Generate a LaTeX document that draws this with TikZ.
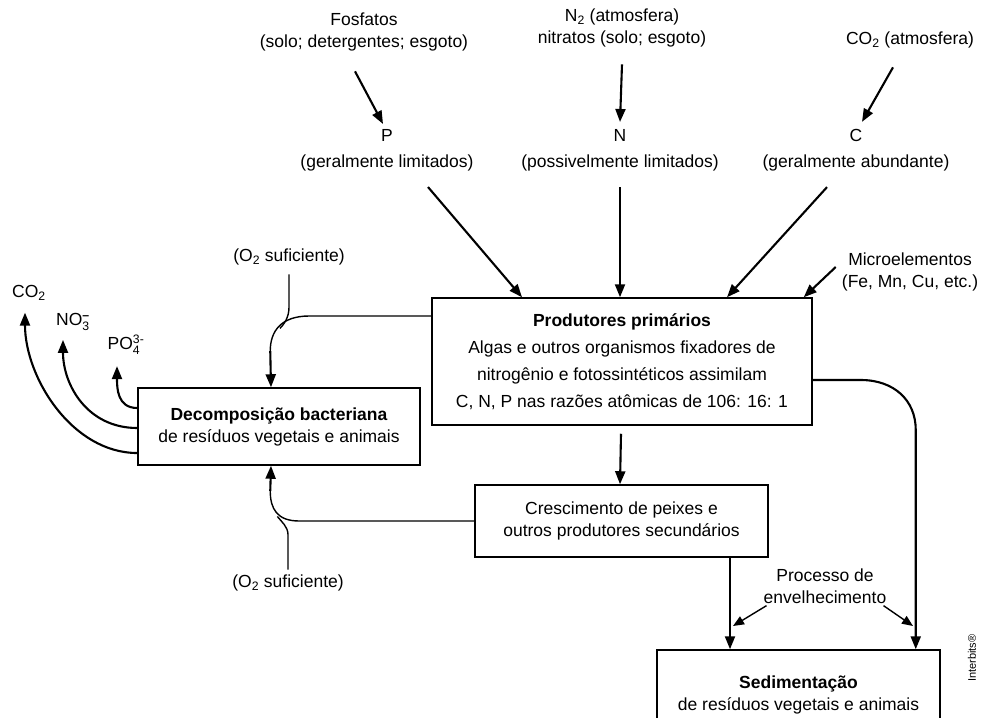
\documentclass[tikz,border=0pt]{standalone}
\usepackage{fontspec}
\usepackage{amsmath}
\setmainfont{Liberation Sans}
\usetikzlibrary{positioning, arrows.meta}

\newcommand{\ionsub}[2]{$_{\text{#2}}^{\text{#1}}$}

\begin{document}
\begin{tikzpicture}[x=1pt, y=-1pt, font=\fontsize{17.5}{22}\selectfont,
    txt/.style={align=center, inner sep=2pt},
    box/.style={draw, line width=1.5pt, align=center, inner sep=0pt},
    arr/.style={-{Triangle[length=13pt,width=10pt]}, line width=2.1pt},
    smallarr/.style={-{Triangle[length=11pt,width=9pt]}, line width=1.4pt},
    thinline/.style={line width=1.4pt}]

    \useasboundingbox (0,0) rectangle (984,717);

    % sources
    \node[txt] (fos) at (364,32) {Fosfatos\\(solo; detergentes; esgoto)};
    \node[txt] (n2) at (622,28) {N\textsubscript{2} (atmosfera)\\nitratos (solo; esgoto)};
    \node[txt] (co2s) at (910,40) {CO\textsubscript{2} (atmosfera)};
    \node[txt] (pp) at (387,150) {P\\[4pt](geralmente limitados)};
    \node[txt] (nn) at (620,150) {N\\[4pt](possivelmente limitados)};
    \node[txt] (cc) at (856,150) {C\\[4pt](geralmente abundante)};
    \node[txt] (micro) at (910,272) {Microelementos\\(Fe, Mn, Cu, etc.)};

    % boxes
    \node[box, minimum width=380pt, minimum height=127pt] (prod) at (622,361.5)
        {\textbf{Produtores primários}\\[5pt]
         Algas e outros organismos fixadores de\\[5pt]
         nitrogênio e fotossintéticos assimilam\\[5pt]
         C, N, P nas razões atômicas de 106: 16: 1};
    \node[box, minimum width=282pt, minimum height=77pt] (dec) at (279,426.5)
        {\textbf{Decomposição bacteriana}\\de resíduos vegetais e animais};
    \node[box, minimum width=293pt, minimum height=72pt] (cre) at (621.5,521)
        {Crescimento de peixes e\\outros produtores secundários};
    \node[box, minimum width=283pt, minimum height=90pt] (sed) at (798.5,695)
        {\textbf{Sedimentação}\\de resíduos vegetais e animais};

    % other labels
    \node[txt] (o2a) at (289,257) {(O\textsubscript{2} suficiente)};
    \node[txt] (o2b) at (288,583) {(O\textsubscript{2} suficiente)};
    \node[txt] (co2l) at (29,293) {CO\textsubscript{2}};
    \node[txt] (no3) at (73,322) {NO\ionsub{\textbf{--}}{3}};
    \node[txt] (po4) at (126,345) {PO\ionsub{3-}{4}};
    \node[txt] (proc) at (825,586) {Processo de\\envelhecimento};
    \node[rotate=90, font=\fontsize{11}{13}\selectfont] (ib) at (972,658) {Interbits®};
    \coordinate (envl) at (733,626);
    \coordinate (envr) at (913,626);

    % inputs
    \draw[arr] ([xshift=-9pt,yshift=-18pt]fos.south) -- ([xshift=-4pt,yshift=3pt]pp.north);
    \draw[arr] ([yshift=-15pt]n2.south) -- ([yshift=5pt]nn.north);
    \draw[arr] ([xshift=-17pt,yshift=-17pt]co2s.south) -- ([xshift=6pt,yshift=5pt]cc.north);
    \draw[arr] ([xshift=41pt,yshift=-14pt]pp.south) -- ([xshift=-100pt]prod.north);
    \draw[arr] ([yshift=-14pt]nn.south) -- (nn.south |- prod.north);
    \draw[arr] ([xshift=-29pt,yshift=-14pt]cc.south) -- ([xshift=105pt]prod.north);
    \draw[arr] ([xshift=-4pt,yshift=5pt]micro.west) -- ([xshift=-9pt]prod.north east);

    % to decomposition
    \draw[thinline] ([yshift=45.5pt]prod.west) -- ++(-122,0)
        .. controls +(-28,0) and +(0,-20) .. ++(-39,35) coordinate (topm);
    \draw[arr] (topm) -- ([xshift=-8pt]dec.north);
    \draw[thinline] ([yshift=-7pt]o2a.south) -- ++(0,33)
        .. controls +(0,10) and +(4,-4) .. ++(-9,21);
    \draw[thinline] (cre.west) -- ++(-175,0)
        .. controls +(-22,0) and +(0,18) .. ++(-29,-30) coordinate (botm);
    \draw[arr] (botm) -- ([xshift=-8pt]dec.south);
    \draw[thinline] ([yshift=3pt]o2b.north) -- ++(0,-35)
        .. controls +(0,-8) and +(4,5) .. ++(-10.7,-18.2);

    % released
    \draw[arr] ([yshift=-26.5pt]dec.west) .. controls +(-65,0) and +(0,65) .. ([xshift=-4pt,yshift=-10pt]co2l.south);
    \draw[arr] ([yshift=-1.5pt]dec.west) .. controls +(-50,0) and +(0,45) .. ([xshift=-10pt,yshift=-7pt]no3.south);
    \draw[arr] ([yshift=18.5pt]dec.west) .. controls +(-20,0) and +(0,22) .. ([xshift=-9pt,yshift=-9pt]po4.south);

    % producers onwards
    \draw[arr] ([xshift=-1pt,yshift=-8pt]prod.south) -- ([xshift=-1.5pt]cre.north);
    \draw[arr] ([xshift=108.5pt]cre.south) -- ([xshift=108.5pt]cre.south |- sed.north);
    \draw[arr] ([yshift=-18.5pt]prod.east) -- ++(48,0)
        .. controls +(33,0) and +(0,-30) .. ++(55,50) -- ([xshift=-25pt]sed.north east);
    \draw[smallarr] ([xshift=5pt]proc.south west) -- (envl);
    \draw[smallarr] ([xshift=-5pt]proc.south east) -- (envr);
\end{tikzpicture}
\end{document}
